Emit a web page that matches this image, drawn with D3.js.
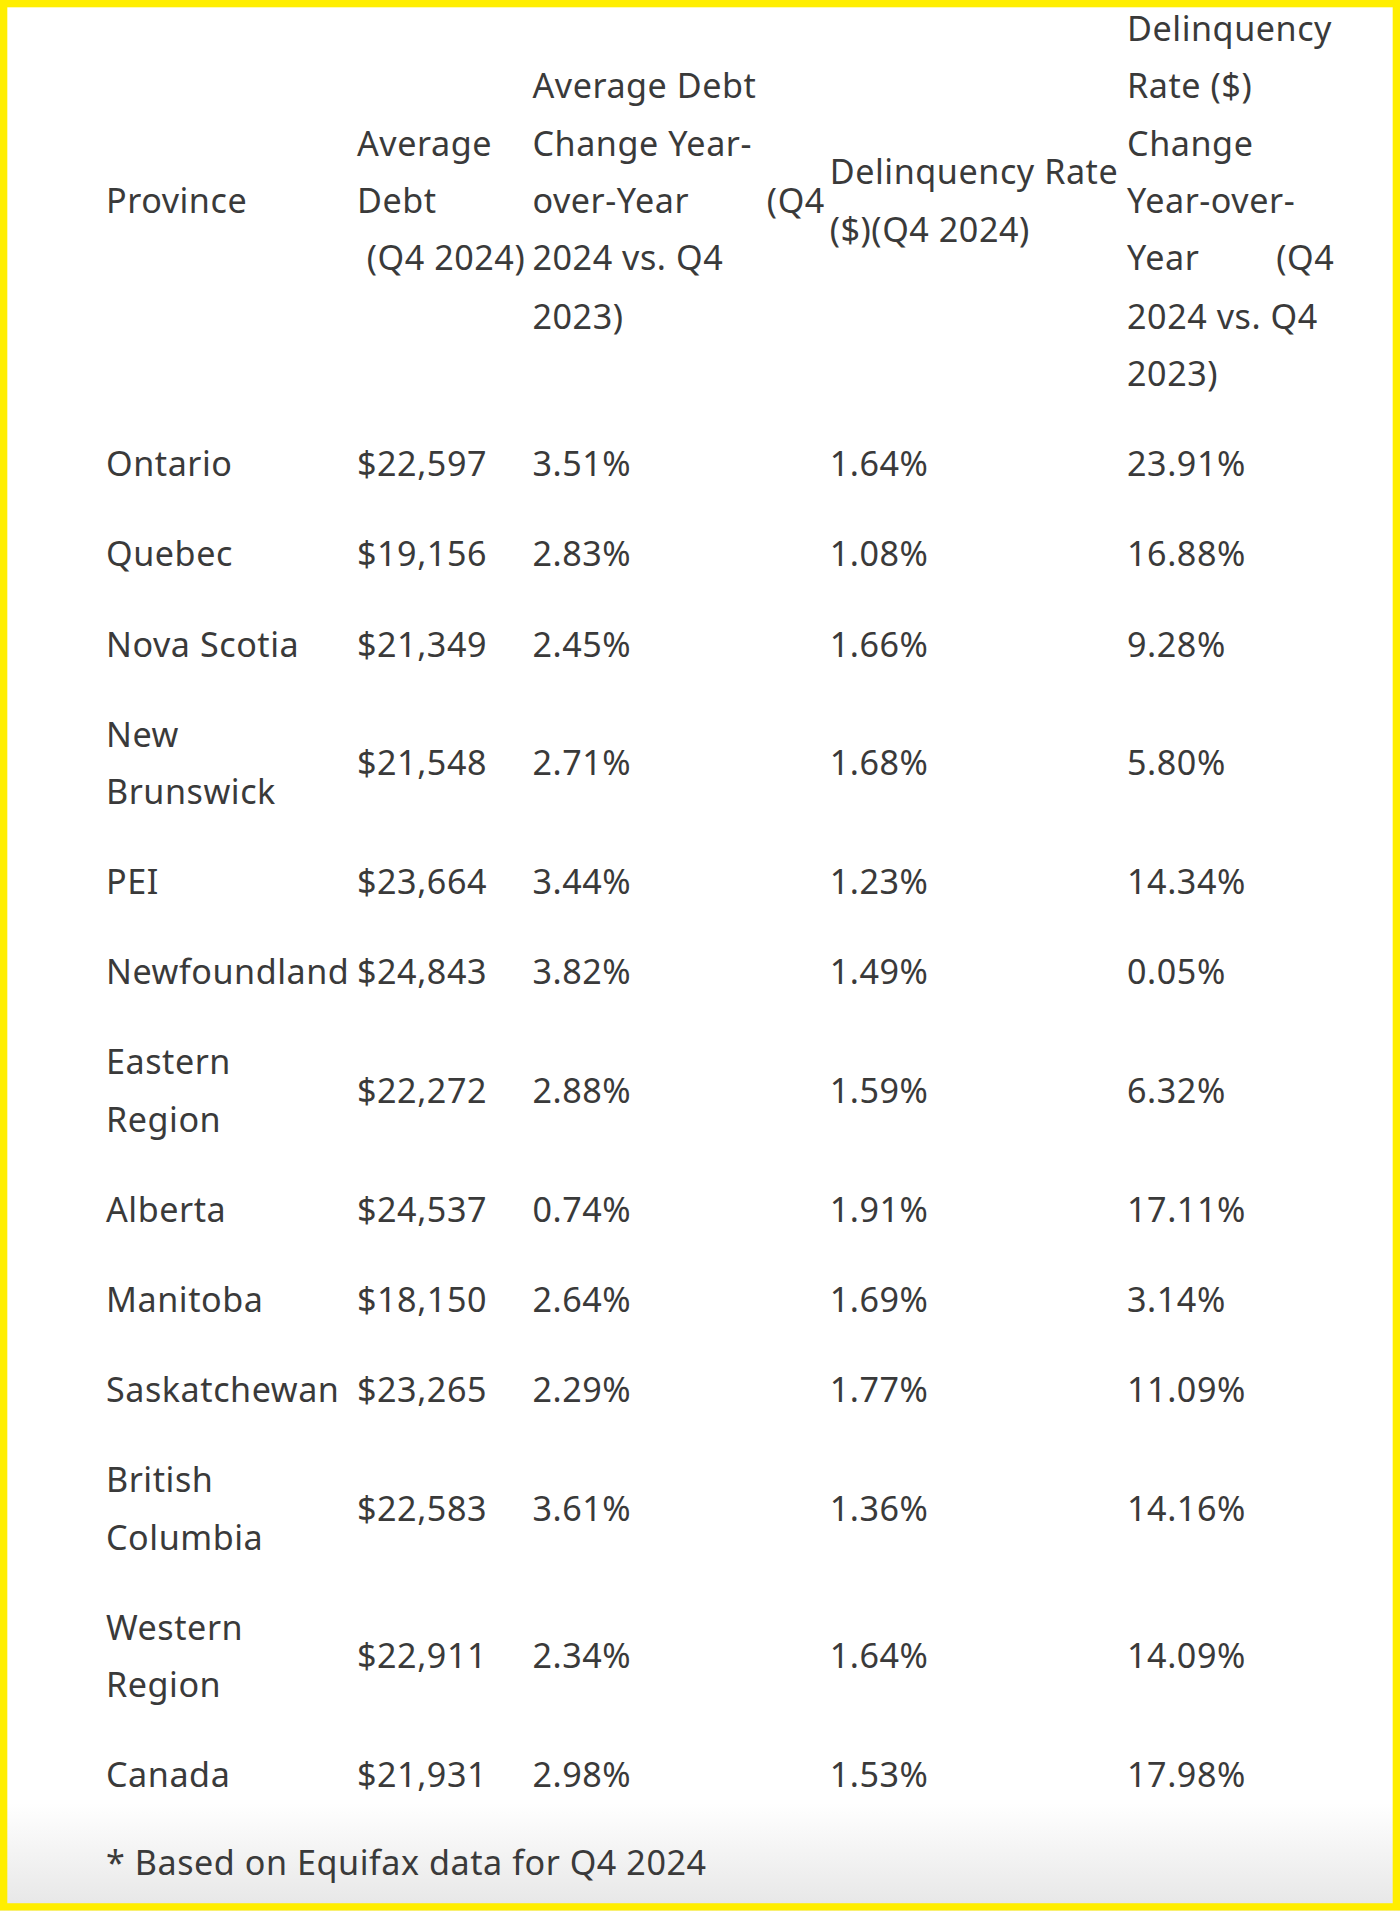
<!DOCTYPE html>
<html><head><meta charset="utf-8">
<script src="https://cdn.jsdelivr.net/npm/d3@7"></script>
<style>body{margin:0;background:#fff}svg{display:block}</style>
</head><body>
<script>
const provinces = [["Ontario"],["Quebec"],["Nova Scotia"],["New","Brunswick"],["PEI"],["Newfoundland"],["Eastern","Region"],["Alberta"],["Manitoba"],["Saskatchewan"],["British","Columbia"],["Western","Region"],["Canada"]];
const avgDebt = ["$22,597","$19,156","$21,349","$21,548","$23,664","$24,843","$22,272","$24,537","$18,150","$23,265","$22,583","$22,911","$21,931"];
const debtChange = ["3.51%","2.83%","2.45%","2.71%","3.44%","3.82%","2.88%","0.74%","2.64%","2.29%","3.61%","2.34%","2.98%"];
const delinq = ["1.64%","1.08%","1.66%","1.68%","1.23%","1.49%","1.59%","1.91%","1.69%","1.77%","1.36%","1.64%","1.53%"];
const delinqChange = ["23.91%","16.88%","9.28%","5.80%","14.34%","0.05%","6.32%","17.11%","3.14%","11.09%","14.16%","14.09%","17.98%"];
const footnote = "* Based on Equifax data for Q4 2024";

const W=1400,H=1911,s=1400/1149;
const svg=d3.select("body").append("svg").attr("width",W).attr("height",H);
const defs=svg.append("defs");
const g1=defs.append("linearGradient").attr("id","fade").attr("x1",0).attr("x2",0).attr("y1",0).attr("y2",1);
g1.append("stop").attr("offset","0").attr("stop-color","#fff");
g1.append("stop").attr("offset","1").attr("stop-color","#e6e6e6");
const g=svg.append("g").attr("transform",`scale(${s})`);
g.append("rect").attr("width",1149).attr("height",1568).attr("fill","#fff");
g.append("rect").attr("x",0).attr("y",1480).attr("width",1149).attr("height",88).attr("fill","url(#fade)");
g.append("rect").attr("x",3).attr("y",3).attr("width",1143).attr("height",1562).attr("fill","none").attr("stroke","#ffee00").attr("stroke-width",6);

const font='"Noto Sans","Open Sans",sans-serif', fs=28, col="#3a3a3a";
const colX=d3.scaleOrdinal().domain([0,1,2,3,4]).range([87,293,437,681,925]);
function txt(x,y,t,anchor){g.append("text").attr("x",x).attr("y",y).attr("dy","0.35em").attr("font-family",font).attr("font-size",fs).attr("letter-spacing",0.45).attr("fill",col).attr("text-anchor",anchor||"start").text(t);}

const lh=47.2;
txt(colX(0),165,"Province");
[["Average",118],["Debt",165]].forEach(d=>txt(colX(1),d[1],d[0]));
txt(301,212,"(Q4 2024)");
[["Average Debt",71],["Change  Year-",118],["over-Year",165],["2024 vs. Q4",212],["2023)",260]].forEach(d=>txt(colX(2),d[1],d[0]));
txt(677,165,"(Q4","end");
[["Delinquency Rate",141],["($)(Q4 2024)",189]].forEach(d=>txt(colX(3),d[1],d[0]));
[["Delinquency",24],["Rate ($)",71],["Change",118],["Year-over-",165],["Year",212],["2024 vs. Q4",260],["2023)",307]].forEach(d=>txt(colX(4),d[1],d[0]));
txt(1095,212,"(Q4","end");

const heights=provinces.map(p=>p.length>1?121:74);
let acc=344, centers=[];
heights.forEach(h=>{centers.push(acc+h/2);acc+=h;});
const y=d3.scaleOrdinal().domain(d3.range(provinces.length)).range(centers);
provinces.forEach((p,i)=>{
  const cy=y(i);
  p.forEach((l,j)=>txt(colX(0),cy+(j-(p.length-1)/2)*lh,l));
  txt(colX(1),cy,avgDebt[i]);
  txt(colX(2),cy,debtChange[i]);
  txt(colX(3),cy,delinq[i]);
  txt(colX(4),cy,delinqChange[i]);
});
txt(87,1529,footnote);
</script>
</body></html>
